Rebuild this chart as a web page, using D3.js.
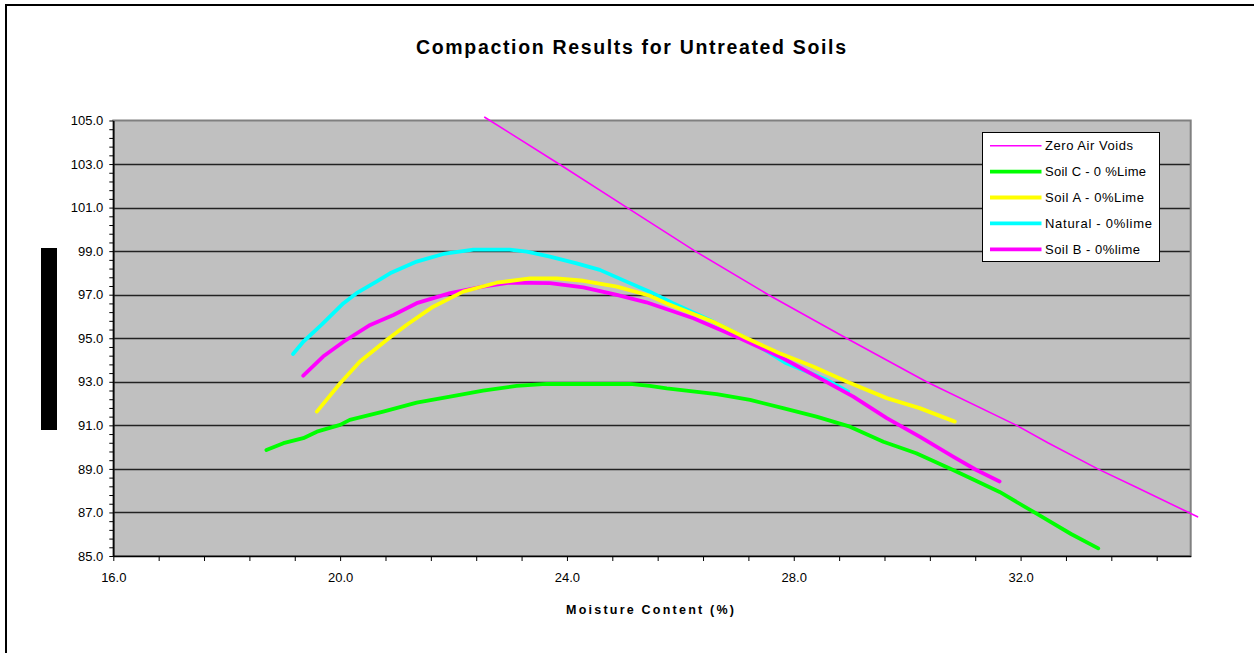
<!DOCTYPE html>
<html><head><meta charset="utf-8">
<script src="https://cdn.jsdelivr.net/npm/d3@7/dist/d3.min.js"></script>
<style>
body{margin:0;background:#fff;}
svg{display:block;font-family:Arial,"Liberation Sans",sans-serif;}
</style>
</head><body>
<svg id="chart" width="1254" height="653"></svg>
<script>
// ---------- data ----------
const chartTitle = "Compaction Results for Untreated Soils";
const xAxisTitle = "Moisture Content (%)";
const xMajorTicks = [16, 20, 24, 28, 32];
const yMajorTicks = [85, 87, 89, 91, 93, 95, 97, 99, 101, 103, 105];
const seriesNames = ["Zero Air Voids", "Soil C - 0 %Lime", "Soil A - 0%Lime", "Natural - 0%lime", "Soil B - 0%lime"];
const seriesColors = ["#FF00FF", "#00FF00", "#FFFF00", "#00FFFF", "#FF00FF"];

const zeroAirVoids = [[22.55,105.15],[23.86,103.0],[25.06,101.0],[26.26,99.0],[27.55,97.0],[28.93,95.0],[30.34,93.0],[31.93,91.0],[32.48,90.2],[33.36,89.0],[34.05,88.15],[35.12,86.8]];
const soilC = [[18.70,89.87],[19.0,90.18],[19.35,90.41],[19.59,90.71],[20.0,91.02],[20.17,91.25],[20.76,91.63],[21.35,92.04],[21.94,92.32],[22.52,92.59],[23.11,92.81],[23.64,92.9],[24.29,92.9],[25.11,92.9],[25.46,92.81],[25.76,92.7],[26.64,92.43],[27.23,92.17],[27.81,91.79],[28.40,91.4],[28.99,90.94],[29.58,90.25],[30.16,89.72],[30.81,88.95],[31.1,88.59],[31.63,87.94],[32.29,86.93],[32.89,86.01],[33.37,85.35]];
const soilA = [[19.59,91.63],[20.0,92.93],[20.35,93.93],[20.82,94.92],[21.17,95.61],[21.64,96.45],[22.17,97.14],[22.76,97.55],[23.35,97.75],[23.82,97.75],[24.29,97.64],[24.88,97.37],[25.46,96.95],[25.76,96.6],[26.58,95.76],[27.17,95.0],[27.75,94.31],[28.34,93.7],[28.93,93.01],[29.64,92.25],[30.22,91.79],[30.84,91.17]];
const natural = [[19.17,94.28],[19.35,94.84],[19.67,95.61],[20.06,96.61],[20.29,97.07],[20.64,97.6],[20.88,97.98],[21.35,98.52],[21.82,98.87],[22.35,99.07],[22.99,99.07],[23.29,98.98],[23.70,98.75],[24.17,98.44],[24.58,98.14],[25.05,97.6],[25.46,97.14],[25.87,96.61],[26.52,95.84],[27.11,95.07],[27.87,93.85],[28.58,93.09],[28.96,92.55]];
const soilB = [[19.35,93.28],[19.70,94.16],[20.06,94.84],[20.53,95.61],[20.94,96.07],[21.35,96.61],[21.94,97.07],[22.52,97.37],[22.99,97.55],[23.70,97.53],[24.29,97.34],[24.88,96.99],[25.40,96.65],[26.23,95.92],[27.05,95.0],[27.81,94.08],[28.46,93.16],[29.05,92.32],[29.64,91.33],[30.22,90.48],[30.81,89.56],[31.22,88.95],[31.63,88.42]];

// ---------- layout ----------
const svg = d3.select("#chart");
const W = 1254, H = 653;
const plot = {left: 113.3, right: 1190.7, top: 120.5, bottom: 556};

const x = d3.scaleLinear().domain([16, 35]).range([plot.left, plot.right]);
const y = d3.scaleLinear().domain([85, 105]).range([plot.bottom, plot.top]);

// outer frame (only left & top visible in the image)
svg.append("rect").attr("x", 6).attr("y", 5).attr("width", W + 20).attr("height", H + 20)
  .attr("fill", "#fff").attr("stroke", "#000").attr("stroke-width", 2);

// title
svg.append("text").attr("x", 631).attr("y", 54).attr("text-anchor", "middle")
  .attr("font-size", 19.5).attr("font-weight", "bold")
  .attr("textLength", 430).attr("lengthAdjust", "spacing")
  .text(chartTitle);

// plot background
svg.append("rect").attr("x", plot.left).attr("y", plot.top)
  .attr("width", plot.right - plot.left).attr("height", plot.bottom - plot.top)
  .attr("fill", "#C0C0C0");

// gridlines
svg.append("g").selectAll("line").data(yMajorTicks.slice(1, -1)).join("line")
  .attr("x1", plot.left).attr("x2", plot.right)
  .attr("y1", d => Math.round(y(d)) + 0.5).attr("y2", d => Math.round(y(d)) + 0.5)
  .attr("stroke", "#222").attr("stroke-width", 1.3);

// plot border
svg.append("rect").attr("x", plot.left).attr("y", plot.top)
  .attr("width", plot.right - plot.left).attr("height", plot.bottom - plot.top)
  .attr("fill", "none").attr("stroke", "#808080").attr("stroke-width", 2);

// axes
const xMinor = d3.range(0, 24).map(i => +(16 + i * 0.8).toFixed(1));
const yMinor = d3.range(0, 51).map(i => +(85 + i * 0.4).toFixed(1));

const xAxis = d3.axisBottom(x).tickValues(xMinor).tickSize(5).tickSizeOuter(0)
  .tickFormat(d => xMajorTicks.includes(d) ? d.toFixed(1) : "");
const gx = svg.append("g").attr("transform", `translate(0,${plot.bottom})`).call(xAxis);
gx.select(".domain").attr("stroke", "#000").attr("stroke-width", 1.5);
gx.selectAll(".tick line").attr("stroke", "#000");
gx.selectAll(".tick text").attr("font-size", 13).attr("fill", "#000").attr("dy", "1.35em")
  .attr("font-family", "Arial, 'Liberation Sans', sans-serif");

const yAxis = d3.axisLeft(y).tickValues(yMinor).tickSize(4).tickSizeOuter(0)
  .tickFormat(d => yMajorTicks.includes(d) ? d.toFixed(1) : "");
const gy = svg.append("g").attr("transform", `translate(${plot.left},0)`).call(yAxis);
gy.select(".domain").attr("stroke", "#000").attr("stroke-width", 1.5);
gy.selectAll(".tick line").attr("stroke", "#000");
gy.selectAll(".tick text").attr("font-size", 13).attr("fill", "#000").attr("x", -10)
  .attr("font-family", "Arial, 'Liberation Sans', sans-serif");

// x axis title
svg.append("text").attr("x", 650).attr("y", 614).attr("text-anchor", "middle")
  .attr("font-size", 12.5).attr("font-weight", "bold")
  .attr("textLength", 168).attr("lengthAdjust", "spacing")
  .text(xAxisTitle);

// y axis title rendered as a solid black block in the original
svg.append("rect").attr("x", 41).attr("y", 248).attr("width", 16).attr("height", 182).attr("fill", "#000");

// series
const line = d3.line().x(d => x(d[0])).y(d => y(d[1]));
const drawOrder = [
  {data: zeroAirVoids, i: 0, w: 1.6},
  {data: natural, i: 3, w: 3.8},
  {data: soilC, i: 1, w: 3.8},
  {data: soilB, i: 4, w: 3.8},
  {data: soilA, i: 2, w: 3.8}
];
drawOrder.forEach(s => {
  svg.append("path").datum(s.data).attr("d", line)
    .attr("fill", "none").attr("stroke", seriesColors[s.i])
    .attr("stroke-width", s.w).attr("stroke-linejoin", "round").attr("stroke-linecap", "round");
});

// legend
const lg = svg.append("g");
lg.append("rect").attr("x", 982.5).attr("y", 132.5).attr("width", 177).attr("height", 129)
  .attr("fill", "#fff").attr("stroke", "#000").attr("stroke-width", 1);
const legendWidths = [88, 101, 99, 107, 95];
seriesNames.forEach((name, i) => {
  const yy = 145.7 + i * 25.9;
  lg.append("line").attr("x1", 990).attr("x2", 1041.5).attr("y1", yy).attr("y2", yy)
    .attr("stroke", seriesColors[i]).attr("stroke-width", i === 0 ? 1.6 : 3.8);
  lg.append("text").attr("x", 1045).attr("y", yy + 4.5).attr("font-size", 13)
    .attr("textLength", legendWidths[i]).attr("lengthAdjust", "spacing")
    .text(name);
});
</script>
</body></html>
